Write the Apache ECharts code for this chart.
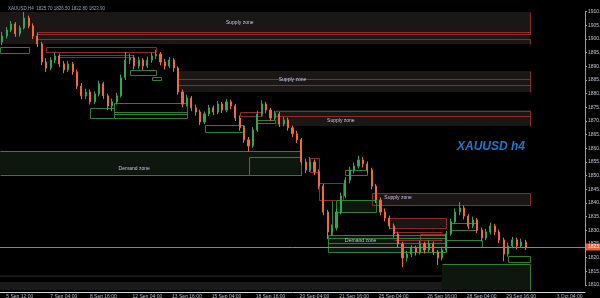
<!DOCTYPE html>
<html><head><meta charset="utf-8">
<script src="https://cdn.jsdelivr.net/npm/echarts@6/dist/echarts.min.js"></script>
<style>html,body{margin:0;padding:0;background:#000;}#c{width:600px;height:298px;}</style>
</head><body><div id="c"></div>
<script>
// ---- data ----
const categoryCount = 133;
// candles: [open, close, low, high]
const candles = [
[1898.9,1901.1,1897.8,1902.6],[1901.1,1903.3,1900.2,1904.4],[1903.3,1905.5,1902.5,1906.6],[1905.5,1901.9,1900.8,1906.2],
[1901.9,1904.1,1900.9,1905.0],[1904.1,1907.7,1903.5,1909.9],[1907.7,1904.8,1903.9,1908.6],[1904.8,1901.1,1900.0,1905.7],
[1901.1,1898.2,1897.0,1902.3],[1898.2,1891.6,1890.5,1898.9],[1891.6,1889.4,1887.9,1893.0],[1889.4,1892.3,1888.6,1893.4],
[1892.3,1893.8,1891.2,1895.0],[1893.8,1890.9,1889.8,1894.6],[1890.9,1888.7,1887.5,1891.9],[1888.7,1890.9,1887.9,1892.0],
[1890.9,1888.0,1886.9,1891.6],[1888.0,1882.8,1881.7,1888.8],[1882.8,1879.2,1878.0,1883.9],[1879.2,1880.6,1878.1,1881.8],
[1880.6,1877.0,1876.0,1881.5],[1877.0,1879.9,1876.2,1880.8],[1879.9,1883.6,1879.0,1884.8],[1883.6,1879.2,1878.1,1884.3],
[1879.2,1875.5,1874.0,1880.0],[1875.5,1877.0,1873.6,1878.2],[1877.0,1879.2,1876.0,1880.3],[1879.2,1885.8,1878.6,1887.0],
[1885.8,1892.3,1885.0,1895.3],[1892.3,1893.1,1890.8,1894.6],[1893.1,1890.1,1888.9,1894.0],[1890.1,1892.3,1889.2,1893.5],
[1892.3,1890.1,1888.7,1893.0],[1890.1,1892.3,1889.4,1893.6],[1892.3,1893.8,1891.3,1895.0],[1893.8,1894.5,1892.6,1896.1],
[1894.5,1891.6,1890.4,1895.2],[1891.6,1890.1,1888.8,1892.7],[1890.1,1892.3,1889.3,1893.4],[1892.3,1889.4,1888.0,1893.0],
[1889.4,1880.6,1879.6,1890.0],[1880.6,1876.2,1875.0,1881.5],[1876.2,1878.4,1875.3,1879.6],[1878.4,1874.8,1873.6,1879.1],
[1874.8,1873.3,1872.0,1876.0],[1873.3,1869.6,1868.5,1874.1],[1869.6,1872.6,1868.8,1873.5],[1872.6,1874.8,1871.8,1875.9],
[1874.8,1873.3,1872.1,1875.6],[1873.3,1876.2,1872.5,1877.3],[1876.2,1874.0,1872.9,1877.0],[1874.0,1877.0,1873.2,1878.0],
[1877.0,1875.5,1874.3,1877.8],[1875.5,1871.1,1870.0,1876.3],[1871.1,1867.5,1866.4,1872.0],[1867.5,1863.1,1862.0,1868.3],
[1863.1,1860.9,1858.8,1864.2],[1860.9,1866.7,1860.2,1867.8],[1866.7,1872.6,1866.0,1873.8],[1872.6,1876.2,1871.8,1877.6],
[1876.2,1874.0,1872.8,1877.0],[1874.0,1871.1,1870.0,1874.8],[1871.1,1872.6,1870.3,1873.7],[1872.6,1868.9,1867.8,1873.3],
[1868.9,1870.4,1868.0,1871.5],[1870.4,1867.5,1866.5,1871.2],[1867.5,1865.3,1864.1,1868.3],[1865.3,1863.1,1862.0,1866.4],
[1863.1,1855.0,1854.0,1863.8],[1855.0,1852.1,1850.9,1856.2],[1852.1,1855.0,1851.3,1856.8],[1855.0,1851.4,1850.2,1855.9],
[1851.4,1846.2,1845.0,1852.3],[1846.2,1836.7,1835.5,1847.0],[1836.7,1829.4,1826.8,1837.5],[1829.4,1830.9,1828.0,1832.2],
[1830.9,1836.7,1830.0,1837.9],[1836.7,1842.6,1835.9,1843.8],[1842.6,1848.4,1841.8,1849.5],[1848.4,1852.1,1847.2,1853.3],
[1852.1,1853.5,1850.8,1854.8],[1853.5,1855.7,1852.6,1857.3],[1855.7,1854.3,1853.0,1856.8],[1854.3,1852.1,1850.9,1855.2],
[1852.1,1846.2,1845.0,1852.9],[1846.2,1841.1,1840.0,1847.0],[1841.1,1836.7,1835.5,1842.0],[1836.7,1834.5,1833.3,1838.0],
[1834.5,1831.6,1830.4,1835.4],[1831.6,1828.7,1827.4,1832.5],[1828.7,1825.0,1823.8,1829.5],[1825.0,1819.9,1816.5,1825.8],
[1819.9,1821.3,1818.6,1822.5],[1821.3,1823.5,1820.2,1824.6],[1823.5,1822.1,1820.8,1824.4],[1822.1,1825.0,1821.2,1826.2],
[1825.0,1822.8,1821.5,1825.8],[1822.8,1825.0,1822.0,1826.3],[1825.0,1822.1,1820.9,1825.9],[1822.1,1819.9,1817.3,1822.8],
[1819.9,1822.8,1819.0,1824.0],[1822.8,1828.7,1822.0,1829.8],[1828.7,1833.1,1828.0,1834.3],[1833.1,1836.7,1832.2,1838.0],
[1836.7,1838.2,1835.5,1840.3],[1838.2,1835.2,1834.0,1839.1],[1835.2,1831.6,1830.4,1836.0],[1831.6,1833.8,1830.8,1835.0],
[1833.8,1830.1,1829.0,1834.5],[1830.1,1827.2,1826.0,1831.0],[1827.2,1829.4,1826.4,1830.6],[1829.4,1831.6,1828.5,1832.8],
[1831.6,1829.4,1828.2,1832.4],[1829.4,1826.5,1825.3,1830.2],[1826.5,1821.3,1818.7,1827.3],[1821.3,1824.3,1820.4,1825.5],
[1824.3,1826.5,1823.4,1827.6],[1826.5,1824.3,1823.0,1827.3],[1824.3,1825.7,1823.5,1826.9],[1825.7,1823.9,1822.8,1826.5]
];
const lastPrice = 1823.9;
// zones: [fromIndex, toIndex, topPrice, bottomPrice]
const supplyFills = [
 [-0.5,120,1909.9,1898.2],[40,120,1888.3,1880.6],[62,120,1874.0,1868.2],[84,120,1843.7,1839.3],[88,101,1834.5,1830.9]
];
const demandFills = [
 [-0.5,68,1859.0,1850.3],[74,101,1828.3,1822.1],[100,120,1817.7,1808.2],[76,85,1841.1,1836.7]
];
const grayBands = [
 [-0.5,120,1813.6,1812.9],[-0.5,120,1811.1,1808.2]
];
// boxes: [fromIndex, toIndex, topPrice, bottomPrice, edges]
const supplyBoxes = [
 [8,120,1902.6,1901.9,'tblr'],[8,120,1909.9,1901.9,'r'],[8,120,1900.0,1898.2,'tr'],
 [10,35,1897.1,1895.3,'tblr'],[13,30,1894.2,1893.4,'tb'],
 [40,120,1885.4,1883.2,'tblr'],[40,120,1888.3,1880.6,'r'],
 [54,59,1873.3,1871.8,'tblr'],[62,120,1873.7,1871.8,'tblr'],[62,120,1874.0,1868.2,'r'],
 [70,72,1856.5,1851.3,'tblr'],[72,77.5,1847.3,1841.1,'tblr'],
 [84,120,1843.7,1839.3,'tblr'],[88,101,1834.5,1830.9,'tblr'],[89,100,1829.4,1826.5,'tb'],[95,101,1828.7,1823.9,'tblr']
];
const demandBoxes = [
 [-0.5,6,1897.1,1894.9,'tblr'],[20,25.5,1874.8,1871.1,'tblr'],[25.5,42,1876.6,1871.1,'tblr'],[25.5,42,1873.3,1872.6,'tb'],
 [29,35,1888.7,1886.9,'tblr'],[34,36,1886.1,1885.0,'tblr'],[46,55,1868.5,1866.0,'tblr'],[58,62,1870.4,1869.3,'tblr'],
 [-0.5,68,1859.0,1850.3,'tbr'],[56,68,1856.8,1850.3,'tblr'],[76,85,1841.1,1836.7,'tblr'],[75,75,1841.1,1828.3,'l'],
 [78,83,1852.1,1850.3,'tblr'],[74,101,1828.3,1822.1,'tblr'],[74,101,1827.2,1825.4,'tb'],
 [102,108,1832.7,1830.1,'tblr'],[101,109,1826.5,1823.9,'tblr'],[115,120,1820.6,1818.4,'tblr'],[100,120,1817.7,1808.2,'tr']
];
const zoneLabels = [
 [54,1905.9,'Supply zone'],[66,1885.0,'Supply zone'],[77,1870.0,'Supply zone'],[90,1841.8,'Supply zone'],
 [30,1852.5,'Demand zone'],[81.5,1826.1,'Demand zone']
];
const xTickIndex = [4,14,23,33,42,51,61,71,80,89,100,109,118,129];
const xTickLabels = ['5 Sep 12:00','7 Sep 04:00','8 Sep 16:00','12 Sep 04:00','13 Sep 16:00','15 Sep 04:00','18 Sep 16:00',
 '20 Sep 04:00','21 Sep 16:00','25 Sep 04:00','26 Sep 16:00','28 Sep 04:00','29 Sep 16:00','3 Oct 04:00'];
const yMin = 1810, yMax = 1910, yStep = 5;

// ---- chart ----
const categories = Array.from({length: categoryCount}, (_, i) => String(i));
function xPix(api, v){ const i = Math.floor(v); const f = v - i; return api.coord([i, yMin])[0] + f * api.size([1, 0])[0]; }
function yPix(api, p){ return api.coord([0, p])[1]; }
function fillSeries(arr, color, z){
  return {type:'custom', z:z, silent:true, data: arr.map(d => [d[0], d[1], d[2], d[3]]),
    encode:{x:[0,1], y:[2,3]},
    renderItem:(params, api) => {
      const d = arr[params.dataIndex];
      const x1 = xPix(api,d[0]), x2 = xPix(api,d[1]), y1 = yPix(api,d[2]), y2 = yPix(api,d[3]);
      return {type:'rect', shape:{x:x1, y:y1, width:x2-x1, height:y2-y1}, style:{fill:color}};
    }};
}
function boxSeries(arr, color, z){
  return {type:'custom', z:z, silent:true, data: arr.map(d => [d[0], d[1], d[2], d[3]]),
    encode:{x:[0,1], y:[2,3]},
    renderItem:(params, api) => {
      const d = arr[params.dataIndex];
      const x1 = Math.round(xPix(api,d[0]))+0.5, x2 = Math.round(xPix(api,d[1]))+0.5;
      const y1 = Math.round(yPix(api,d[2]))+0.5, y2 = Math.round(yPix(api,d[3]))+0.5;
      const e = d[4], ch = [];
      const st = {stroke:color, lineWidth:1};
      if (e.includes('t')) ch.push({type:'line', shape:{x1:x1,y1:y1,x2:x2,y2:y1}, style:st});
      if (e.includes('b')) ch.push({type:'line', shape:{x1:x1,y1:y2,x2:x2,y2:y2}, style:st});
      if (e.includes('l')) ch.push({type:'line', shape:{x1:x1,y1:y1,x2:x1,y2:y2}, style:st});
      if (e.includes('r')) ch.push({type:'line', shape:{x1:x2,y1:y1,x2:x2,y2:y2}, style:st});
      return {type:'group', children:ch};
    }};
}
const chart = echarts.init(document.getElementById('c'), null, {renderer:'canvas'});
chart.setOption({
  animation:false,
  backgroundColor:'#000000',
  textStyle:{fontFamily:'Liberation Sans'},
  title:[
    {text:'XAUUSD,H4  1825.70 1826.50 1822.80 1823.90', left:3, top:1,
     textStyle:{color:'#9aa0b0', fontSize:4.5, fontWeight:'normal'}},
    {text:'XAUUSD h4', left:452, top:136,
     textStyle:{color:'#1f78cc', fontSize:12, fontStyle:'italic', fontWeight:'bold', fontFamily:'Liberation Sans'}}
  ],
  grid:{left:0, right:15, top:11.67, bottom:13, containLabel:false, outerBoundsMode:'none'},
  xAxis:{type:'category', data:categories, boundaryGap:true, offset:7,
    axisLine:{lineStyle:{color:'#d8d8d8', width:1}},
    axisTick:{show:false},
    axisLabel:{color:'#b8bcc8', fontSize:5, margin:2,
      interval:(i) => xTickIndex.includes(i),
      formatter:(v, i) => { const k = xTickIndex.indexOf(i); return k >= 0 ? xTickLabels[k] : ''; }},
    splitLine:{show:false}},
  yAxis:{type:'value', position:'right', min:yMin, max:yMax, interval:yStep, scale:true,
    axisLine:{show:true, lineStyle:{color:'#9a9a9a'}},
    axisTick:{show:true, length:2, lineStyle:{color:'#9a9a9a'}},
    axisLabel:{color:'#c0c4d0', fontSize:5, margin:3, formatter:v => v.toFixed(2)},
    splitLine:{show:false}},
  series:[
    fillSeries(grayBands, '#1a1a1a', 1),
    fillSeries(supplyFills, '#1c1717', 1),
    fillSeries(demandFills, '#0e170e', 1),
    boxSeries(supplyBoxes, '#8f2a2a', 2),
    boxSeries(demandBoxes, '#2f7f34', 2),
    {type:'custom', z:3, silent:true, data: zoneLabels.map(d => [d[0], d[1]]),
      renderItem:(params, api) => {
        const d = zoneLabels[params.dataIndex];
        return {type:'text', x:xPix(api,d[0]), y:yPix(api,d[1]),
          style:{text:d[2], fill:'#c4c4e4', fontSize:5, align:'center', verticalAlign:'middle', fontFamily:'Liberation Sans'}};
      }},
    {type:'candlestick', z:4, data:candles, barWidth:1.6, clip:false,
      itemStyle:{color:'#2fa84f', color0:'#ef6a3a', borderColor:'#2fa84f', borderColor0:'#ef6a3a', borderWidth:1},
      markLine:{silent:true, symbol:['none','none'], animation:false,
        lineStyle:{color:'#e8603c', type:'solid', width:1},
        label:{show:true, position:'end', formatter:lastPrice.toFixed(2), color:'#ffffff', fontSize:5,
          backgroundColor:'#e8603c', padding:[1,2], distance:1},
        data:[{yAxis:lastPrice}]}}
  ]
});
</script></body></html>
